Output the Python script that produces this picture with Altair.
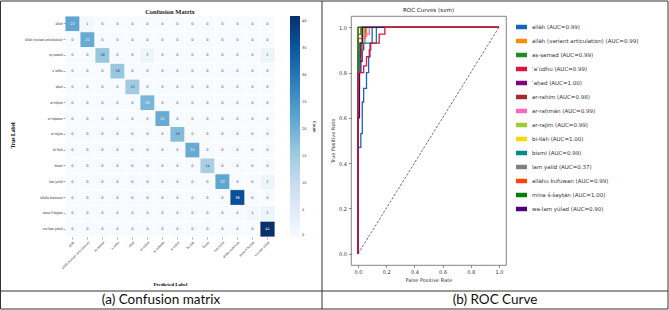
import altair as alt
import pandas as pd

# ---------------- data ----------------
classes = ["allāh", "allāh (variant articulation)", "aṣ-ṣamad", "ʾaʿūdhu", "ʾaḥad",
           "ar-raḥīm", "ar-raḥmān", "ar-rajīm", "bi-llāh", "bismi", "lam yalid",
           "allāhu kufuwan", "mina š-šayṭān", "wa-lam yūlad"]
auc_values = [0.99, 0.99, 0.99, 0.99, 1.00, 0.98, 0.99, 0.99, 1.00, 0.99, 0.37, 0.99, 1.00, 0.90]
roc_colors = ["#1565c0", "#ff8c00", "#228b22", "#dc143c", "#800080", "#a52a2a", "#ff69b4",
              "#9acd32", "#ffd700", "#008b8b", "#808080", "#ff4500", "#008000", "#4b0082"]

conf_matrix = [
    [22, 1, 0, 0, 0, 0, 0, 0, 0, 0, 0, 0, 0, 0],
    [0, 21, 0, 0, 0, 0, 0, 0, 0, 0, 0, 0, 0, 0],
    [0, 0, 16, 0, 0, 2, 0, 0, 0, 0, 0, 0, 0, 2],
    [0, 0, 0, 16, 0, 0, 0, 0, 0, 0, 0, 0, 0, 0],
    [0, 0, 0, 0, 15, 0, 0, 0, 0, 0, 0, 0, 0, 0],
    [0, 0, 0, 0, 0, 19, 0, 0, 0, 0, 0, 0, 0, 0],
    [0, 0, 0, 0, 0, 0, 21, 0, 0, 0, 0, 0, 0, 0],
    [0, 0, 0, 0, 0, 0, 0, 18, 0, 0, 0, 0, 0, 0],
    [0, 0, 0, 0, 0, 0, 0, 0, 21, 0, 0, 0, 0, 0],
    [0, 0, 0, 0, 0, 0, 0, 0, 0, 14, 0, 0, 0, 0],
    [0, 0, 0, 0, 0, 0, 0, 0, 0, 0, 22, 0, 0, 2],
    [0, 0, 0, 0, 0, 0, 0, 0, 0, 0, 0, 36, 0, 0],
    [0, 0, 0, 0, 0, 0, 0, 0, 0, 0, 0, 0, 1, 2],
    [0, 0, 0, 0, 0, 0, 0, 0, 0, 0, 0, 0, 0, 41],
]
count_ticks = [0, 5, 10, 15, 20, 25, 30, 35, 40]
roc_ticks = [0.0, 0.2, 0.4, 0.6, 0.8, 1.0]

# ROC curves: (fpr, tpr) steps
roc_curves = {
    "allāh": [(0, 0), (0, 0.47), (0.02, 0.47), (0.02, 0.53), (0.03, 0.53), (0.03, 0.67), (0.04, 0.67),
              (0.04, 0.73), (0.06, 0.73), (0.06, 0.8), (0.075, 0.8), (0.075, 0.87), (0.085, 0.87),
              (0.085, 0.93), (0.1, 0.93), (0.1, 1.0), (1, 1)],
    "allāh (variant articulation)": [(0, 0), (0, 0.87), (0.02, 0.87), (0.02, 0.93), (0.04, 0.93),
                                     (0.04, 0.96), (0.06, 0.96), (0.06, 1.0), (1, 1)],
    "aṣ-ṣamad": [(0, 0), (0, 0.97), (0.02, 0.97), (0.02, 1.0), (1, 1)],
    "ʾaʿūdhu": [(0, 0), (0, 0.8), (0.04, 0.8), (0.04, 0.83), (0.06, 0.83), (0.06, 0.87), (0.08, 0.87),
                (0.08, 0.9), (0.09, 0.9), (0.09, 0.93), (0.15, 0.93), (0.15, 0.97), (0.19, 0.97),
                (0.19, 1.0), (1, 1)],
    "ʾaḥad": [(0, 0), (0, 1.0), (1, 1)],
    "ar-raḥīm": [(0, 0), (0, 0.85), (0.03, 0.85), (0.03, 0.9), (0.04, 0.9), (0.04, 0.95), (0.05, 0.95),
                 (0.05, 1.0), (1, 1)],
    "ar-raḥmān": [(0, 0), (0, 0.93), (0.05, 0.93), (0.05, 0.97), (0.08, 0.97), (0.08, 1.0), (1, 1)],
    "ar-rajīm": [(0, 0), (0, 0.93), (0.04, 0.93), (0.04, 1.0), (1, 1)],
    "bi-llāh": [(0, 0), (0, 1.0), (1, 1)],
    "bismi": [(0, 0), (0, 0.73), (0.01, 0.73), (0.01, 0.93), (0.13, 0.93), (0.13, 1.0), (1, 1)],
    "lam yalid": [(0, 0), (0, 0.9), (0.03, 0.9), (0.03, 1.0), (1, 1)],
    "allāhu kufuwan": [(0, 0), (0, 0.95), (0.03, 0.95), (0.03, 1.0), (1, 1)],
    "mina š-šayṭān": [(0, 0), (0, 1.0), (1, 1)],
    "wa-lam yūlad": [(0, 0), (0, 0.6), (0.01, 0.6), (0.01, 0.8), (0.02, 0.8), (0.02, 0.93),
                     (0.03, 0.93), (0.03, 1.0), (1, 1)],
}
top_curve = "ʾaʿūdhu"
diag_fpr = [0.0, 1.0]
diag_tpr = [0.0, 1.0]
captions = ["(a) Confusion matrix", "(b) ROC Curve"]
panel_titles = ["Confusion Matrix", "ROC Curves (svm)"]

# ---------------- tables ----------------
cm_df = pd.DataFrame([
    {"true": t, "pred": p, "count": conf_matrix[i][j]}
    for i, t in enumerate(classes) for j, p in enumerate(classes)
])
labels = [f"{c} (AUC={a:.2f})" for c, a in zip(classes, auc_values)]
roc_rows = []
for c, lab in zip(classes, labels):
    for k, (f, t) in enumerate(roc_curves[c]):
        roc_rows.append({"cls": c, "label": lab, "fpr": f, "tpr": t, "step": k})
roc_df = pd.DataFrame(roc_rows)
diag_df = pd.DataFrame({"fpr": diag_fpr, "tpr": diag_tpr})
one = pd.DataFrame({"k": [0]})

blues = ["#f7fbff", "#deebf7", "#c6dbef", "#9ecae1", "#6baed6", "#4292c6", "#2171b5", "#08519c", "#08306b"]
cmax = max(max(r) for r in conf_matrix)
cdom = [cmax * k / (len(blues) - 1) for k in range(len(blues))]

SERIF = "Liberation Serif"
SANS = "DejaVu Sans"

# ---------------- confusion matrix ----------------
cm_base = alt.Chart(cm_df).encode(
    x=alt.X("pred:N", sort=classes, title="Predicted Label",
            scale=alt.Scale(paddingInner=0, paddingOuter=0),
            axis=alt.Axis(labelAngle=-45, labelFont=SERIF, labelFontSize=3.6, labelColor="#333",
                          domain=False, tickSize=2, tickColor="#555", tickWidth=0.5, labelPadding=1,
                          titleFont=SERIF, titleFontSize=5, titleFontWeight="bold",
                          titleX=105, titleY=46, titleBaseline="middle")),
    y=alt.Y("true:N", sort=classes, title="True Label",
            scale=alt.Scale(paddingInner=0, paddingOuter=0),
            axis=alt.Axis(labelFont=SERIF, labelFontSize=3.6, labelColor="#333", labelLimit=200,
                          domain=False, tickSize=2, tickColor="#555", tickWidth=0.5, labelPadding=1,
                          titleFont=SERIF, titleFontSize=5.5, titleFontWeight="bold",
                          titleX=-53, titleY=119, titleAngle=270, titleBaseline="middle")),
)
cm_rect = cm_base.mark_rect(stroke="white", strokeWidth=0.8).encode(
    color=alt.Color("count:Q", scale=alt.Scale(domain=cdom, range=blues),
                    legend=alt.Legend(orient="none", legendX=225, legendY=0, direction="vertical",
                                      gradientLength=221, gradientThickness=10, title="Count",
                                      titleOrient="right", titleFont=SANS, titleFontSize=4,
                                      titleFontWeight="normal", labelFont=SANS, labelFontSize=3.6,
                                      labelColor="#333", values=count_ticks, gradientStrokeWidth=0,
                                      padding=0))
)
cm_text = cm_base.mark_text(font=SANS, fontSize=3.6).encode(
    text="count:Q",
    color=alt.condition("datum.count > 18", alt.value("white"), alt.value("#444")),
)
cm_title = alt.Chart(one).mark_text(font=SERIF, fontSize=6.5, fontWeight="bold", color="#222").encode(
    x=alt.value(105), y=alt.value(-4), text=alt.value(panel_titles[0]))

border_col = "#333"
frame = alt.Chart(one).mark_rect(fillOpacity=0, stroke=border_col, strokeWidth=1).encode(
    x=alt.value(-64.5), x2=alt.value(603), y=alt.value(-15), y2=alt.value(293))
vdiv = alt.Chart(one).mark_rule(color=border_col, strokeWidth=1).encode(
    x=alt.value(257), y=alt.value(-15), y2=alt.value(293))
hdiv = alt.Chart(one).mark_rule(color=border_col, strokeWidth=1).encode(
    x=alt.value(-64.5), x2=alt.value(603), y=alt.value(275))
cap_a = alt.Chart(one).mark_text(font="Lato", fontSize=13.5, color="#111").encode(
    x=alt.value(96), y=alt.value(284), text=alt.value(captions[0]))
cap_b = alt.Chart(one).mark_text(font="Lato", fontSize=13.5, color="#111").encode(
    x=alt.value(430), y=alt.value(284), text=alt.value(captions[1]))

cm_chart = alt.layer(cm_rect, cm_text, cm_title, frame, vdiv, hdiv, cap_a, cap_b).properties(
    width=210, height=221,
)

# ---------------- ROC ----------------
x_enc = alt.X("fpr:Q", title="False Positive Rate",
              scale=alt.Scale(domain=[-0.05, 1.05], nice=False, zero=False),
              axis=alt.Axis(values=roc_ticks, format=".1f", labelFont=SANS, labelFontSize=5,
                            labelColor="#333", tickSize=2.5, tickColor="#444", tickWidth=0.6,
                            domain=False, grid=False, labelPadding=2, titleFont=SANS,
                            titleFontSize=5, titleFontWeight="normal", titleColor="#333",
                            titlePadding=3))
y_enc = alt.Y("tpr:Q", title="True Positive Rate",
              scale=alt.Scale(domain=[-0.05, 1.05], nice=False, zero=False),
              axis=alt.Axis(values=roc_ticks, format=".1f", labelFont=SANS, labelFontSize=5,
                            labelColor="#333", tickSize=2.5, tickColor="#444", tickWidth=0.6,
                            domain=False, grid=False, labelPadding=2, titleFont=SANS,
                            titleFontSize=5, titleFontWeight="normal", titleColor="#333",
                            titlePadding=3))
color_enc = alt.Color("label:N", scale=alt.Scale(domain=labels, range=roc_colors),
                      legend=alt.Legend(orient="none", legendX=165.5, legendY=6, title=None,
                                        symbolType="M-2,0H2", symbolSize=30.25, symbolStrokeWidth=4.5,
                                        symbolOpacity=1,
                                        labelFont=SANS, labelFontSize=5.5, labelColor="#333",
                                        labelOffset=5.5, rowPadding=-7, padding=0, labelLimit=300))

diag = alt.Chart(diag_df).mark_line(color="#333", strokeWidth=0.7, strokeDash=[2.5, 1.5]).encode(
    x=x_enc, y=y_enc)
lines_main = alt.Chart(roc_df[roc_df["cls"] != top_curve]).mark_line(strokeWidth=1.3).encode(
    x=x_enc, y=y_enc, color=color_enc, order="step:Q")
lines_top = alt.Chart(roc_df[roc_df["cls"] == top_curve]).mark_line(strokeWidth=1.3).encode(
    x=x_enc, y=y_enc, color=color_enc, order="step:Q")
roc_title = alt.Chart(one).mark_text(font=SANS, fontSize=5.6, color="#222").encode(
    x=alt.value(77.5), y=alt.value(-6), text=alt.value(panel_titles[1]))

roc_chart = alt.layer(diag, lines_main, lines_top, roc_title).properties(
    width=155, height=249,
    view=alt.ViewBackground(stroke="#666", strokeWidth=0.8),
)

chart = alt.hconcat(cm_chart, roc_chart, spacing=76, bounds="flush").properties(
    padding=0, background="white"
).configure_view(strokeWidth=0)

chart.save("out.html", embed_options={"renderer": "svg", "actions": False})
